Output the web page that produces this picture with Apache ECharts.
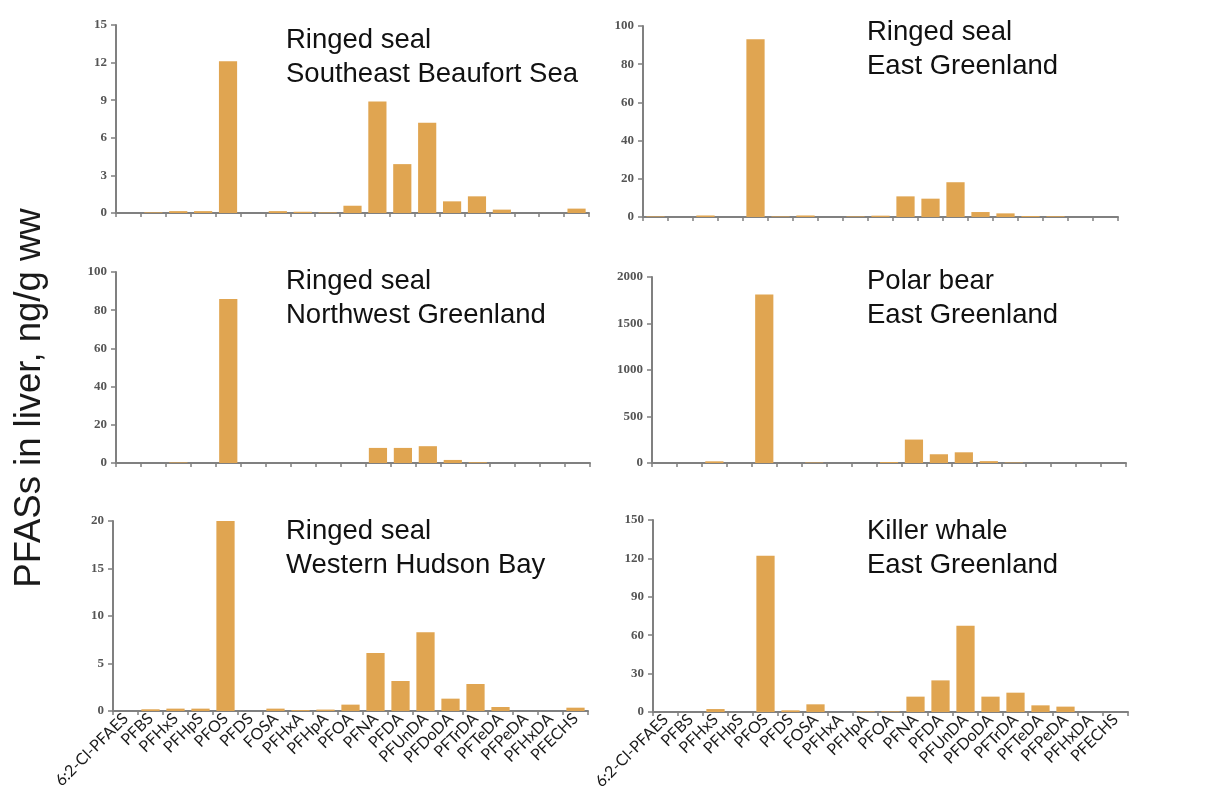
<!DOCTYPE html>
<html>
<head>
<meta charset="utf-8">
<script src="https://cdn.jsdelivr.net/npm/echarts@6/dist/echarts.min.js"></script>
<style>
  html, body { margin: 0; padding: 0; background: #ffffff; }
  #chart { width: 1218px; height: 796px; }
</style>
</head>
<body>
<div id="chart"></div>
<script>
// ---------- data ----------
var categories = ['6:2-Cl-PFAES','PFBS','PFHxS','PFHpS','PFOS','PFDS','FOSA','PFHxA','PFHpA','PFOA','PFNA','PFDA','PFUnDA','PFDoDA','PFTrDA','PFTeDA','PFPeDA','PFHxDA','PFECHS'];

var sealBeaufort      = [0, 0.05, 0.15, 0.15, 12.1, 0, 0.15, 0.1, 0.05, 0.58, 8.9, 3.9, 7.2, 0.93, 1.33, 0.27, 0, 0, 0.35];
var sealEastGreenland = [0.3, 0, 0.8, 0, 93, 0.3, 0.8, 0, 0.3, 0.7, 10.8, 9.6, 18.2, 2.6, 1.9, 0.5, 0.4, 0, 0];
var sealNWGreenland   = [0, 0, 0.3, 0, 85.9, 0, 0, 0, 0, 0, 7.9, 7.9, 8.8, 1.6, 0.4, 0, 0, 0, 0];
var bearEastGreenland = [0, 0, 18, 0, 1813, 0, 5, 0, 0, 10, 252, 94, 115, 20, 5, 0, 0, 0, 0];
var sealHudsonBay     = [0, 0.18, 0.25, 0.25, 20.0, 0, 0.25, 0.1, 0.15, 0.67, 6.1, 3.16, 8.28, 1.3, 2.84, 0.42, 0, 0, 0.35];
var whaleEastGreenland= [0, 0, 2.3, 0, 122, 1.3, 6, 0, 0.5, 0.5, 12, 24.7, 67.4, 12, 15.1, 5.2, 4.2, 0, 0];

var panelTitles = [
  'Ringed seal\nSoutheast Beaufort Sea',
  'Ringed seal\nEast Greenland',
  'Ringed seal\nNorthwest Greenland',
  'Polar bear\nEast Greenland',
  'Ringed seal\nWestern Hudson Bay',
  'Killer whale\nEast Greenland'
];
var yMax      = [15, 100, 100, 2000, 20, 150];
var yInterval = [3, 20, 20, 500, 5, 30];
var yAxisTitle = 'PFASs in liver, ng/g ww';

// ---------- layout ----------
var grids = [
  { left: 116, top: 25,  width: 473, height: 188 },
  { left: 643, top: 26,  width: 475, height: 191 },
  { left: 116, top: 272, width: 474, height: 191 },
  { left: 652, top: 277, width: 474, height: 186 },
  { left: 113, top: 521, width: 475, height: 190 },
  { left: 653, top: 520, width: 475, height: 192 }
];
var titlePos = [
  { left: 286, top: 23 },
  { left: 867, top: 15 },
  { left: 286, top: 264 },
  { left: 867, top: 264 },
  { left: 286, top: 514 },
  { left: 867, top: 514 }
];
var seriesData = [sealBeaufort, sealEastGreenland, sealNWGreenland, bearEastGreenland, sealHudsonBay, whaleEastGreenland];

var axisColor = '#808080';
var barColor = '#E0A551';

var option = {
  animation: false,
  backgroundColor: '#ffffff',
  grid: grids.map(function (g) { return Object.assign({ containLabel: false }, g); }),
  title: panelTitles.map(function (t, i) {
    return {
      text: t,
      left: titlePos[i].left,
      top: titlePos[i].top,
      padding: 0,
      textStyle: { fontFamily: 'Liberation Sans, Arial, sans-serif', fontSize: 27.5, fontWeight: 'normal', color: '#111', lineHeight: 34 }
    };
  }),
  xAxis: grids.map(function (g, i) {
    return {
      type: 'category',
      gridIndex: i,
      data: categories,
      boundaryGap: true,
      axisLine: { show: true, lineStyle: { color: axisColor, width: 2 } },
      axisTick: { show: true, length: 4, interval: 0, lineStyle: { color: axisColor, width: 1.5 } },
      axisLabel: {
        show: i >= 4,
        interval: 0,
        rotate: 45,
        margin: 5,
        fontFamily: 'Lato, sans-serif',
        fontSize: 16,
        color: '#1a1a1a'
      },
      splitLine: { show: false }
    };
  }),
  yAxis: grids.map(function (g, i) {
    return {
      type: 'value',
      gridIndex: i,
      min: 0,
      max: yMax[i],
      interval: yInterval[i],
      axisLine: { show: true, lineStyle: { color: axisColor, width: 2 } },
      axisTick: { show: true, length: 5, lineStyle: { color: axisColor, width: 1.5 } },
      axisLabel: {
        margin: 9,
        fontFamily: 'Liberation Serif, serif',
        fontWeight: 'bold',
        fontSize: 13,
        color: '#555',
        formatter: function (v) { return String(v); }
      },
      splitLine: { show: false }
    };
  }),
  series: seriesData.map(function (d, i) {
    return {
      type: 'bar',
      xAxisIndex: i,
      yAxisIndex: i,
      data: d,
      barWidth: '73%',
      itemStyle: { color: barColor },
      silent: true
    };
  }),
  graphic: [
    {
      type: 'text',
      x: 30,
      y: 398,
      rotation: Math.PI / 2,
      style: {
        text: yAxisTitle,
        fontFamily: 'Liberation Sans, Arial, sans-serif',
        fontSize: 36.5,
        fill: '#1a1a1a',
        textAlign: 'center',
        textVerticalAlign: 'middle'
      }
    }
  ]
};

var chart = echarts.init(document.getElementById('chart'), null, { renderer: 'canvas' });
chart.setOption(option);
</script>
</body>
</html>
